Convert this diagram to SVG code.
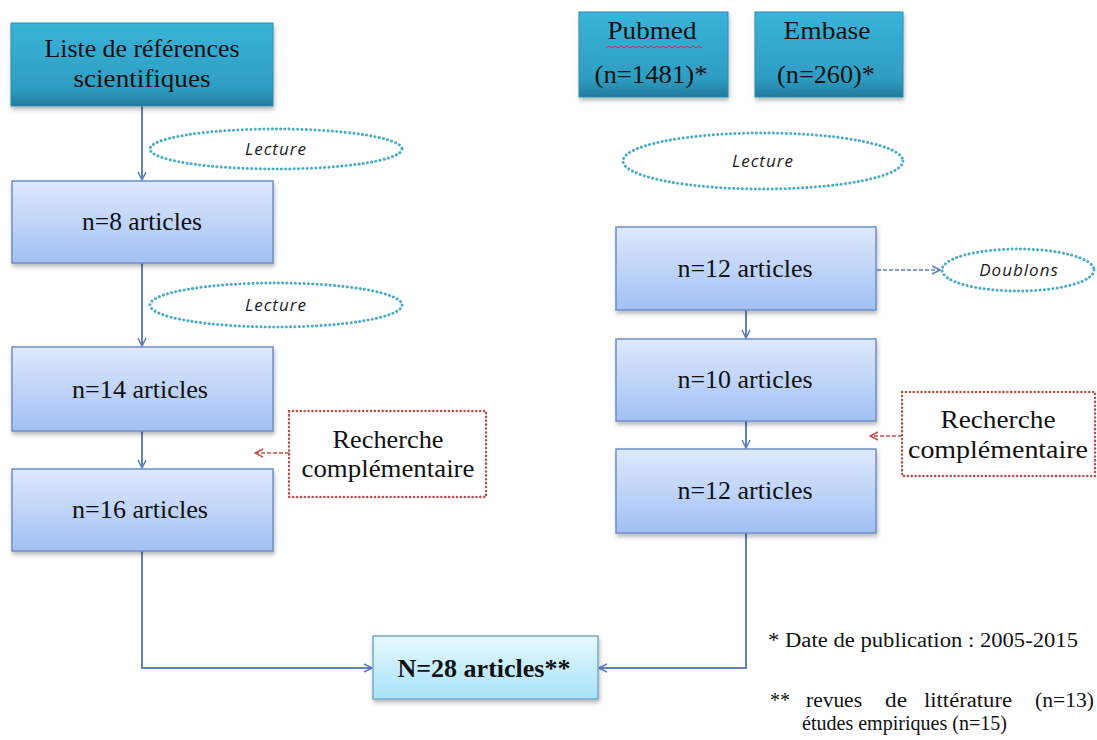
<svg xmlns="http://www.w3.org/2000/svg" width="1097" height="740" viewBox="0 0 1097 740">
<defs>
<linearGradient id="gTeal" x1="0" y1="0" x2="0" y2="1"><stop offset="0" stop-color="#3AB4DA"/><stop offset="0.8" stop-color="#2E9CC2"/><stop offset="1" stop-color="#23799A"/></linearGradient>
<linearGradient id="gBlue" x1="0" y1="0" x2="0" y2="1"><stop offset="0" stop-color="#DEE9FC"/><stop offset="1" stop-color="#A2C0F4"/></linearGradient>
<linearGradient id="gCyan" x1="0" y1="0" x2="0" y2="1"><stop offset="0" stop-color="#E8F9FE"/><stop offset="1" stop-color="#A6E3F7"/></linearGradient>
<filter id="sh" x="-10%" y="-10%" width="125%" height="135%"><feDropShadow dx="1" dy="3" stdDeviation="2" flood-color="#000" flood-opacity="0.28"/></filter>
<marker id="ab" viewBox="0 0 10 10" refX="9" refY="5" markerWidth="10" markerHeight="10" markerUnits="userSpaceOnUse" orient="auto"><path d="M1,1 L9,5 L1,9" fill="none" stroke="#5F82BD" stroke-width="1.6"/></marker>
<marker id="ar" viewBox="0 0 10 10" refX="9" refY="5" markerWidth="10" markerHeight="10" markerUnits="userSpaceOnUse" orient="auto"><path d="M1,1 L9,5 L1,9" fill="none" stroke="#C0504D" stroke-width="1.4"/></marker>
</defs>
<style>
.teal{fill:url(#gTeal);stroke:#2A8CB0;stroke-width:1;filter:url(#sh)}
.blue{fill:url(#gBlue);stroke:#6D8FC8;stroke-width:1.5;filter:url(#sh)}
.cyan{fill:url(#gCyan);stroke:#7CA8C8;stroke-width:1.5;filter:url(#sh)}
.t{font-family:"Liberation Serif","Times New Roman",serif;font-size:25px;fill:#111;text-anchor:middle}
.tb{font-family:"Liberation Serif","Times New Roman",serif;font-size:25px;font-weight:bold;fill:#111;text-anchor:middle}
.lec{font-family:"Open Sans","Liberation Sans",sans-serif;font-size:17px;font-style:italic;fill:#1a1a1a;text-anchor:middle;letter-spacing:1px}
.ell{fill:#fff;stroke:#4BACC6;stroke-width:3;stroke-dasharray:0.1 4.2;stroke-linecap:round}
.rech{fill:#fff;stroke:#B5504C;stroke-width:2.5;stroke-dasharray:0.1 3.8;stroke-linecap:round}
.fn{font-family:"Liberation Serif","Times New Roman",serif;font-size:20px;fill:#111}
.c{fill:none;stroke:#5F82BD;stroke-width:2}
.cd{fill:none;stroke:#5F82BD;stroke-width:1.5;stroke-dasharray:4 2}
.cr{fill:none;stroke:#C0504D;stroke-width:1.5;stroke-dasharray:4 2}
</style>
<rect width="1097" height="740" fill="#fff"/>

<g id="connectors">
<line class="c" x1="142" y1="106" x2="142" y2="180" marker-end="url(#ab)"/>
<line class="c" x1="142" y1="263" x2="142" y2="346" marker-end="url(#ab)"/>
<line class="c" x1="142" y1="431" x2="142" y2="468" marker-end="url(#ab)"/>
<path class="c" d="M142,551 V668 H372" marker-end="url(#ab)"/>
<line class="c" x1="746" y1="310" x2="746" y2="338" marker-end="url(#ab)"/>
<line class="c" x1="746" y1="421" x2="746" y2="448" marker-end="url(#ab)"/>
<path class="c" d="M746,533 V668 H599" marker-end="url(#ab)"/>
<line class="cd" x1="877" y1="270" x2="940" y2="270" marker-end="url(#ab)"/>
<line class="cr" x1="289" y1="453" x2="255" y2="453" marker-end="url(#ar)"/>
<line class="cr" x1="902" y1="436" x2="870" y2="436" marker-end="url(#ar)"/>
</g>

<g id="liste"><rect class="teal" x="11" y="23" width="262" height="83"/>
<text class="t" x="142" y="57" textLength="195" lengthAdjust="spacingAndGlyphs">Liste de références</text>
<text class="t" x="142" y="87" textLength="137" lengthAdjust="spacingAndGlyphs">scientifiques</text></g>

<g id="pubmed"><rect class="teal" x="579" y="12" width="149" height="85"/>
<text class="t" x="652" y="39" textLength="89" lengthAdjust="spacingAndGlyphs">Pubmed</text>
<path d="M606,48 l3,-2 3,2 3,-2 3,2 3,-2 3,2 3,-2 3,2 3,-2 3,2 3,-2 3,2 3,-2 3,2 3,-2 3,2 3,-2 3,2 3,-2 3,2 3,-2 3,2 3,-2 3,2 3,-2 3,2 3,-2 3,2 3,-2 3,2 3,-2 3,2" fill="none" stroke="#D03030" stroke-width="1"/>
<text class="t" x="651" y="83" textLength="113" lengthAdjust="spacingAndGlyphs">(n=1481)*</text></g>

<g id="embase"><rect class="teal" x="755" y="12" width="148" height="85"/>
<text class="t" x="827" y="39" textLength="87" lengthAdjust="spacingAndGlyphs">Embase</text>
<text class="t" x="826" y="83" textLength="98" lengthAdjust="spacingAndGlyphs">(n=260)*</text></g>

<g id="lecture1"><ellipse class="ell" cx="276" cy="149" rx="126" ry="20"/><text class="lec" x="276" y="155">Lecture</text></g>
<g id="lecture2"><ellipse class="ell" cx="276" cy="305" rx="126" ry="22"/><text class="lec" x="276" y="311">Lecture</text></g>
<g id="lecture3"><ellipse class="ell" cx="763" cy="161" rx="140" ry="28"/><text class="lec" x="763" y="167">Lecture</text></g>
<g id="doublons"><ellipse class="ell" cx="1018" cy="270" rx="76" ry="21"/><text class="lec" x="1019" y="276">Doublons</text></g>

<g id="n8"><rect class="blue" x="12" y="181" width="261" height="82"/><text class="t" x="142" y="230" textLength="120" lengthAdjust="spacingAndGlyphs">n=8 articles</text></g>
<g id="n14"><rect class="blue" x="12" y="347" width="261" height="84"/><text class="t" x="140" y="398" textLength="136" lengthAdjust="spacingAndGlyphs">n=14 articles</text></g>
<g id="n16"><rect class="blue" x="12" y="469" width="261" height="82"/><text class="t" x="140" y="518" textLength="136" lengthAdjust="spacingAndGlyphs">n=16 articles</text></g>

<g id="rn12a"><rect class="blue" x="616" y="227" width="260" height="83"/><text class="t" x="745" y="277" textLength="135" lengthAdjust="spacingAndGlyphs">n=12 articles</text></g>
<g id="rn10"><rect class="blue" x="616" y="339" width="260" height="82"/><text class="t" x="745" y="388" textLength="135" lengthAdjust="spacingAndGlyphs">n=10 articles</text></g>
<g id="rn12b"><rect class="blue" x="616" y="449" width="260" height="84"/><text class="t" x="745" y="499" textLength="135" lengthAdjust="spacingAndGlyphs">n=12 articles</text></g>

<g id="recherche1"><rect class="rech" x="289" y="411" width="197" height="86"/>
<text class="t" x="388" y="448" textLength="111" lengthAdjust="spacingAndGlyphs">Recherche</text>
<text class="t" x="388" y="477" textLength="173" lengthAdjust="spacingAndGlyphs">complémentaire</text></g>

<g id="recherche2"><rect class="rech" x="902" y="392" width="193" height="84"/>
<text class="t" x="998" y="428" textLength="115" lengthAdjust="spacingAndGlyphs">Recherche</text>
<text class="t" x="998" y="458" textLength="180" lengthAdjust="spacingAndGlyphs">complémentaire</text></g>

<g id="final"><rect class="cyan" x="373" y="636" width="225" height="63"/>
<text class="tb" x="484" y="677" textLength="173" lengthAdjust="spacingAndGlyphs">N=28 articles**</text></g>

<g id="notes">
<text class="fn" x="768" y="647" font-size="21" textLength="310" lengthAdjust="spacingAndGlyphs">* Date de publication : 2005-2015</text>
<text class="fn" x="770" y="707" textLength="20" lengthAdjust="spacingAndGlyphs">**</text>
<text class="fn" x="806" y="707" textLength="56" lengthAdjust="spacingAndGlyphs">revues</text>
<text class="fn" x="885" y="707" textLength="22" lengthAdjust="spacingAndGlyphs">de</text>
<text class="fn" x="924" y="707" textLength="88" lengthAdjust="spacingAndGlyphs">littérature</text>
<text class="fn" x="1035" y="707" textLength="59" lengthAdjust="spacingAndGlyphs">(n=13)</text>
<text class="fn" x="802" y="730" textLength="205" lengthAdjust="spacingAndGlyphs">études empiriques (n=15)</text>
</g>
</svg>
